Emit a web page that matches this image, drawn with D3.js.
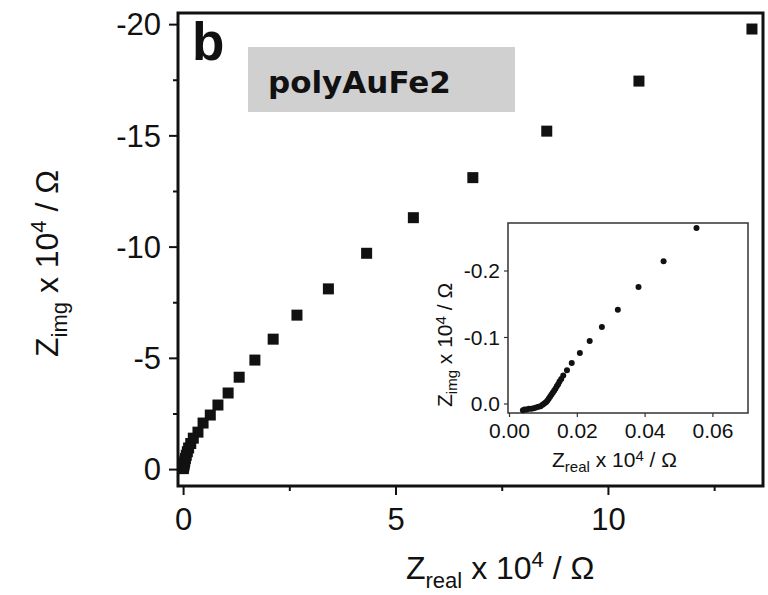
<!DOCTYPE html>
<html>
<head>
<meta charset="utf-8">
<script src="https://cdn.jsdelivr.net/npm/d3@7"></script>
<style>
	body { margin: 0; background: #fff; }
	svg { display: block; }
	.tick text { font-family: "Liberation Sans", Arial, sans-serif; fill: #111; }
</style>
</head>
<body>
<div id="chart"></div>
<script>
// Main Nyquist plot, x = Z real, y = Z img (x 10^4 ohm)
var mainX = [13.39, 10.73, 8.56, 6.82, 5.42, 4.32, 3.42, 2.68, 2.12, 1.69, 1.32, 1.06, 0.82, 0.64, 0.47, 0.35, 0.24, 0.18, 0.13, 0.10, 0.075, 0.055, 0.04, 0.03, 0.02, 0.012, 0.006];
var mainY = [-19.78, -17.44, -15.19, -13.1, -11.3, -9.7, -8.1, -6.92, -5.84, -4.9, -4.13, -3.42, -2.88, -2.43, -2.07, -1.66, -1.39, -1.15, -0.95, -0.78, -0.62, -0.48, -0.36, -0.26, -0.17, -0.09, -0.02];
var mainXTicks = [0, 5, 10];
var mainXMinor = [2.5, 7.5, 12.5];
var mainYTicks = [0, -5, -10, -15, -20];
var mainYMinor = [-2.5, -7.5, -12.5, -17.5];

// Inset: high frequency region
var insetX = [0.0553, 0.0456, 0.0382, 0.0321, 0.0274, 0.0238, 0.0209, 0.0185, 0.0171,
	0.0160, 0.0154, 0.0149, 0.0145, 0.0141, 0.0137, 0.0133, 0.0129, 0.0125, 0.0121, 0.0117,
	0.0113, 0.0109, 0.0104, 0.0099, 0.0093, 0.0087, 0.0080, 0.0073, 0.0066, 0.0059, 0.0052,
	0.0046, 0.0041];
var insetY = [-0.264, -0.214, -0.175, -0.141, -0.115, -0.094, -0.076, -0.061, -0.050,
	-0.042, -0.037, -0.033, -0.029, -0.026, -0.022, -0.019, -0.016, -0.013, -0.010, -0.007,
	-0.004, -0.002, 0.000, 0.002, 0.004, 0.005, 0.006, 0.007, 0.008, 0.008, 0.009,
	0.009, 0.010];
var insetXTicks = [0, 0.02, 0.04, 0.06];
var insetYTicks = [0, -0.1, -0.2];

var font = '"Liberation Sans", Arial, sans-serif';
var ink = '#111';

var svg = d3.select('#chart')
	.append('svg')
	.attr('width', 768)
	.attr('height', 595);

svg.append('rect')
	.attr('width', 768)
	.attr('height', 595)
	.attr('fill', '#fff');

// ---- main plot ----
var x = d3.scaleLinear().domain([-0.12, 13.65]).range([178, 763]);
var y = d3.scaleLinear().domain([0.76, -20.5]).range([486, 13]);

// axes (ticks point outward)
var gx = svg.append('g')
	.attr('transform', 'translate(0,486)')
	.call(d3.axisBottom(x).tickValues(mainXTicks).tickSize(9).tickFormat(d3.format('d')));
gx.selectAll('text')
	.attr('y', 44)
	.attr('dy', null)
	.style('font-size', '31px');

svg.append('g')
	.attr('transform', 'translate(0,486)')
	.call(d3.axisBottom(x).tickValues(mainXMinor).tickSize(5).tickFormat(''));

var gy = svg.append('g')
	.attr('transform', 'translate(178,0)')
	.call(d3.axisLeft(y).tickValues(mainYTicks).tickSize(9).tickPadding(8)
		.tickFormat(function(d) { return String(d); }));
gy.selectAll('text')
	.attr('dy', '0.35em')
	.style('font-size', '31px');

svg.append('g')
	.attr('transform', 'translate(178,0)')
	.call(d3.axisLeft(y).tickValues(mainYMinor).tickSize(5).tickFormat(''));

svg.selectAll('.domain').remove();
svg.selectAll('.tick line')
	.attr('stroke', ink)
	.attr('stroke-width', 2);

// frame
svg.append('rect')
	.attr('x', 178)
	.attr('y', 13)
	.attr('width', 585)
	.attr('height', 473)
	.attr('fill', 'none')
	.attr('stroke', ink)
	.attr('stroke-width', 3);

// square markers
var sq = 11;
svg.append('g')
	.selectAll('rect')
	.data(d3.range(mainX.length))
	.enter()
	.append('rect')
	.attr('x', function(i) { return x(mainX[i]) - sq / 2; })
	.attr('y', function(i) { return y(mainY[i]) - sq / 2; })
	.attr('width', sq)
	.attr('height', sq)
	.attr('fill', ink);

// axis titles with sub/superscripts
function axisTitle(sel, sub, size, subSize, shift) {
	sel.attr('font-family', font)
		.attr('font-size', size)
		.attr('fill', ink);
	sel.append('tspan').text('Z');
	sel.append('tspan').text(sub).attr('font-size', subSize).attr('dy', shift);
	sel.append('tspan').text(' x 10').attr('dy', -shift);
	sel.append('tspan').text('4').attr('font-size', subSize).attr('dy', -shift * 1.3);
	sel.append('tspan').text(' / \u03A9').attr('dy', shift * 1.3);
}

axisTitle(svg.append('text').attr('x', 406).attr('y', 579), 'real', 32, 22, 9);
axisTitle(svg.append('text').attr('transform', 'translate(58,357) rotate(-90)'), 'img', 32, 22, 9);

// panel letter
svg.append('text')
	.attr('x', 192)
	.attr('y', 60)
	.attr('font-family', font)
	.attr('font-weight', 'bold')
	.attr('font-size', 53)
	.attr('fill', ink)
	.text('b');

// sample label box
svg.append('rect')
	.attr('x', 248)
	.attr('y', 47)
	.attr('width', 267)
	.attr('height', 65)
	.attr('fill', '#d0d0d0');

svg.append('text')
	.attr('x', 268)
	.attr('y', 93)
	.attr('font-family', '"DejaVu Sans", sans-serif')
	.attr('font-weight', 'bold')
	.attr('font-size', 31)
	.attr('fill', ink)
	.text('polyAuFe2');

// ---- inset ----
var ix = d3.scaleLinear().domain([-0.0003, 0.0705]).range([508, 748]);
var iy = d3.scaleLinear().domain([0.0143, -0.2714]).range([413, 223]);

svg.append('rect')
	.attr('x', 508)
	.attr('y', 223)
	.attr('width', 240)
	.attr('height', 190)
	.attr('fill', '#fff')
	.attr('stroke', '#333')
	.attr('stroke-width', 1.5);

var igx = svg.append('g')
	.attr('transform', 'translate(0,413)')
	.call(d3.axisBottom(ix).tickValues(insetXTicks).tickSize(4).tickFormat(d3.format('.2f')));
igx.selectAll('text')
	.attr('y', 25)
	.attr('dy', null)
	.style('font-size', '21px');

var igy = svg.append('g')
	.attr('transform', 'translate(508,0)')
	.call(d3.axisLeft(iy).tickValues(insetYTicks).tickSize(4).tickPadding(4)
		.tickFormat(function(d) { return d.toFixed(1); }));
igy.selectAll('text')
	.attr('dy', '0.35em')
	.style('font-size', '21px');

igx.select('.domain').remove();
igy.select('.domain').remove();
igx.selectAll('.tick line').attr('stroke', '#333').attr('stroke-width', 1.2);
igy.selectAll('.tick line').attr('stroke', '#333').attr('stroke-width', 1.2);

svg.append('g')
	.selectAll('circle')
	.data(d3.range(insetX.length))
	.enter()
	.append('circle')
	.attr('cx', function(i) { return ix(insetX[i]); })
	.attr('cy', function(i) { return iy(insetY[i]); })
	.attr('r', 3)
	.attr('fill', ink);

axisTitle(svg.append('text').attr('x', 552).attr('y', 467), 'real', 21, 15, 5);
axisTitle(svg.append('text').attr('transform', 'translate(452,407) rotate(-90)'), 'img', 21, 15, 5);
</script>
</body>
</html>
